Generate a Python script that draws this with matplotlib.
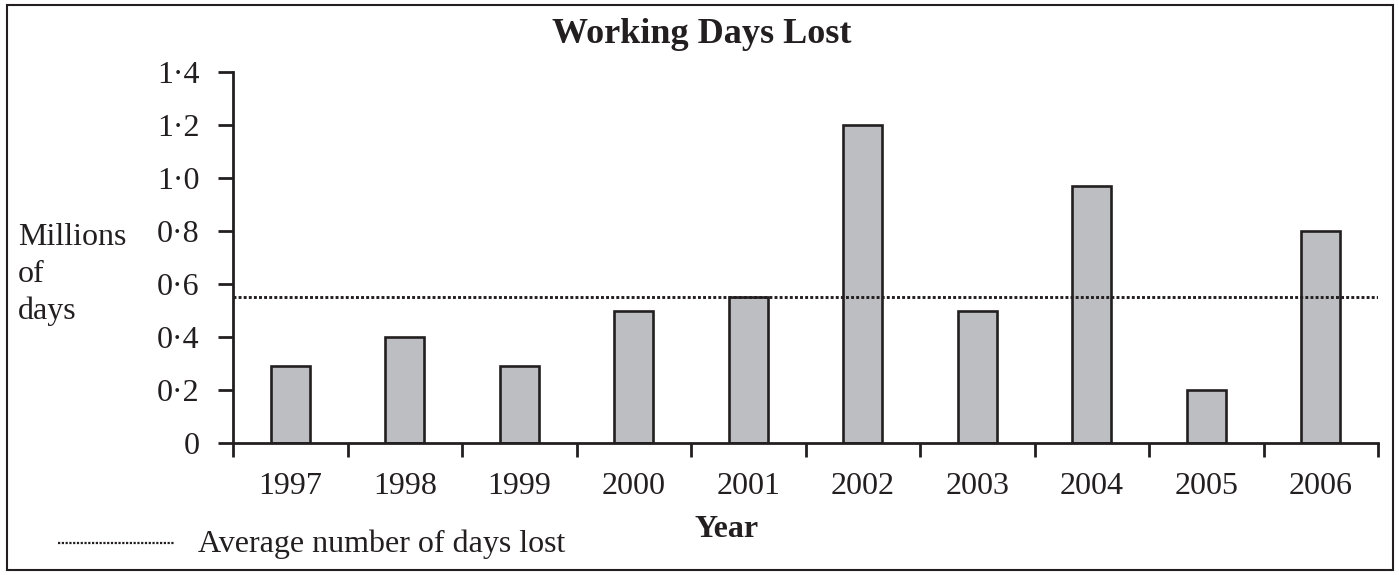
import numpy as np
import matplotlib.pyplot as plt
from matplotlib.patches import Rectangle
from matplotlib.lines import Line2D

years = ['1997', '1998', '1999', '2000', '2001', '2002', '2003', '2004', '2005', '2006']
days_lost = [0.29, 0.40, 0.29, 0.50, 0.55, 1.20, 0.50, 0.97, 0.20, 0.80]
average = 0.55
yticks = [0, 0.2, 0.4, 0.6, 0.8, 1.0, 1.2, 1.4]

plt.rcParams['font.family'] = ['Liberation Serif', 'DejaVu Serif']
ink = '#231f20'

W, H = 1399, 575
fig = plt.figure(figsize=(W / 100, H / 100), dpi=100)


def fx(px):
    return px / W


def fy(py):
    return 1 - py / H


# axes box: x from 233 to 1378 px, y from 443 (0) to 72 (1.4)
ax = fig.add_axes([fx(233), fy(443), fx(1378 - 233), (443 - 72) / H])

x = np.arange(len(years))
ax.bar(x, days_lost, width=0.34, color='#bdbec2', edgecolor=ink, linewidth=1.9, zorder=2)
ax.axhline(average, color=ink, linestyle=(0, (1, 0.75)), linewidth=2.1, zorder=3)

ax.set_xlim(-0.5, len(years) - 0.5)
ax.set_ylim(0, 1.4)

# y axis with middle-dot decimals
ax.set_yticks(yticks)
ax.set_yticklabels(['0' if v == 0 else f'{v:.1f}'.replace('.', '\u00b7') for v in yticks])
ax.tick_params(axis='y', direction='out', length=11, width=2.0, color=ink,
               labelsize=23, pad=13, labelcolor=ink)

# x axis: tick marks between bars, labels under the bars
ax.set_xticks(np.arange(len(years) + 1) - 0.5)
ax.set_xticklabels([])
ax.set_xticks(x, minor=True)
ax.set_xticklabels(years, minor=True)
ax.tick_params(axis='x', which='major', direction='out', length=10, width=2.0, color=ink)
ax.tick_params(axis='x', which='minor', length=0, labelsize=23, pad=21, labelcolor=ink)

for s in ['top', 'right']:
    ax.spines[s].set_visible(False)
for s in ['left', 'bottom']:
    ax.spines[s].set_linewidth(2.0)
    ax.spines[s].set_color(ink)

fig.text(fx(702), fy(43), 'Working Days Lost', ha='center', va='baseline',
         fontsize=26, fontweight='bold', color=ink)
fig.text(fx(727), fy(537), 'Year', ha='center', va='baseline',
         fontsize=23, fontweight='bold', color=ink)

# y axis caption, one word per line
for word, base in zip(['Millions', 'of', 'days'], [245, 282, 319]):
    fig.text(fx(18), fy(base), word, ha='left', va='baseline', fontsize=23, color=ink)

# legend entry for the average line
fig.add_artist(Line2D([fx(58), fx(175)], [fy(543), fy(543)], color=ink,
                      linestyle=(0, (1, 0.7)), linewidth=1.6))
fig.text(fx(198), fy(552), 'Average number of days lost', ha='left', va='baseline',
         fontsize=23, color=ink)

# frame round the whole chart
fig.add_artist(Rectangle((fx(7), fy(570)), fx(1393 - 7), (570 - 5) / H,
                         transform=fig.transFigure, fill=False, edgecolor=ink, linewidth=1.5))

fig.savefig('out.png', dpi=100)
